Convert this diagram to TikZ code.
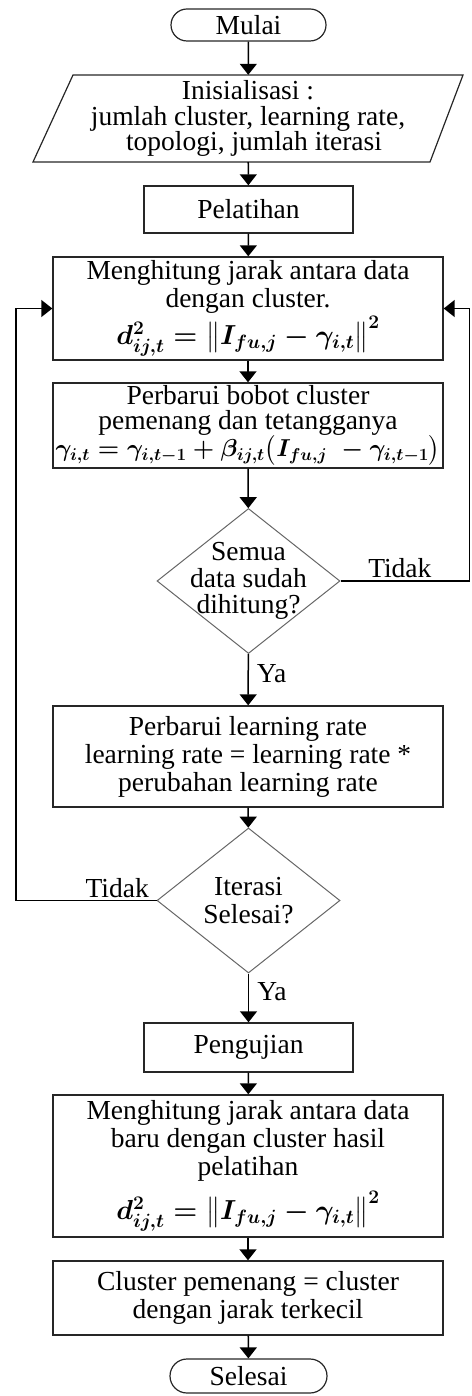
\documentclass[tikz,border=0pt]{standalone}
\usepackage{fix-cm}
\usepackage{amsmath}
\usepackage{fontspec}
\setmainfont{Liberation Serif}
\usetikzlibrary{shapes.geometric,arrows.meta}
\newcommand{\fsz}{\fontsize{27.5}{28}\selectfont}
\begin{document}
\begin{tikzpicture}[x=1pt,y=-1pt,
  every node/.style={font=\fsz,inner sep=0pt},
  procbox/.style={draw=black!85,line width=1.4pt,rectangle,align=center},
  termbox/.style={draw=black!85,line width=1.2pt,rectangle,rounded corners=16pt,align=center},
  decbox/.style={draw=black!60,line width=1pt,diamond,inner sep=0pt},
  arr/.style={-{Triangle[width=17pt,length=11pt]},line width=1.5pt,draw=black},
  lbl/.style={font=\fsz,inner sep=2pt}
]
\useasboundingbox (0,0) rectangle (471,1396);

\node[termbox,minimum width=155pt,minimum height=32pt] (start) at (248.5,25) {Mulai};

\draw[draw=black!85,line width=1.2pt] (73,75) -- (463,75) -- (430,162) -- (33,162) -- cycle;
\node[align=center,minimum height=87pt,font=\fontsize{27.5}{25.5}\selectfont] (init) at (248,118.5)
  {Inisialisasi :\\jumlah cluster, learning rate,\\\hspace*{12pt}topologi, jumlah iterasi};

\node[procbox,minimum width=209pt,minimum height=47pt] (pel) at (248.5,209.5) {Pelatihan};

\node[procbox,minimum width=390pt,minimum height=103pt] (b1) at (248,308.5)
  {Menghitung jarak antara data\\dengan cluster.\\[1pt]
   {\boldmath$d_{ij,t}^{2}=\bigl\|I_{fu,j}-\gamma_{i,t}\bigr\|^{2}$}};

\node[procbox,minimum width=390pt,minimum height=85pt,font=\fontsize{27.5}{25}\selectfont] (b2) at (248,425.5)
  {Perbarui bobot cluster\\pemenang dan tetangganya\\[-1pt]
   {\fontsize{24.5}{25}\selectfont\boldmath$\gamma_{i,t}=\gamma_{i,t-1}+\beta_{ij,t}\bigl(I_{fu,j}\;-\gamma_{i,t-1}\bigr)$}};

\node[decbox,minimum width=183pt,minimum height=145pt] (d1) at (248.5,581) {};
\node[align=center,font=\fontsize{27.5}{26.5}\selectfont] (d1t) at (d1) {Semua\\data sudah\\dihitung?};

\node[procbox,minimum width=390pt,minimum height=101pt] (b3) at (248,756.5)
  {Perbarui learning rate\\learning rate = learning rate *\\perubahan learning rate};

\node[decbox,minimum width=183pt,minimum height=145pt] (d2) at (248.5,900.5) {};
\node[align=center] (d2t) at (d2) {Iterasi\\Selesai?};

\node[procbox,minimum width=209pt,minimum height=49pt] (peng) at (248.5,1047.5) {Pengujian};

\node[procbox,minimum width=390pt,minimum height=142pt] (b4) at (248,1166)
  {Menghitung jarak antara data\\baru dengan cluster hasil\\pelatihan\\[8pt]
   {\boldmath$d_{ij,t}^{2}=\bigl\|I_{fu,j}-\gamma_{i,t}\bigr\|^{2}$}};

\node[procbox,minimum width=390pt,minimum height=74pt] (b5) at (248,1298)
  {Cluster pemenang = cluster\\dengan jarak terkecil};

\node[termbox,minimum width=157pt,minimum height=34pt,rounded corners=17pt] (stop) at (248.5,1376) {Selesai};

\coordinate (rx) at (469.5,0);
\coordinate (lx) at (16,0);

\draw[arr] (start) -- (init);
\draw[arr] (init) -- (pel);
\draw[arr] (pel) -- (b1);
\draw[arr] (b1) -- (b2);
\draw[arr] (b2) -- (d1);
\draw[arr] (d1) -- node[lbl,pos=0.38,right=6pt] {Ya} (b3);
\draw[arr] (b3) -- (d2);
\draw[arr] (d2) -- node[lbl,pos=0.38,right=6pt] {Ya} (peng);
\draw[arr] (peng) -- (b4);
\draw[arr] (b4) -- (b5);
\draw[arr] (b5) -- (stop);

\draw[arr] (d1.east) -- node[lbl,above,pos=0.46] {Tidak} (d1.east -| rx) |- (b1.east);
\draw[arr] (d2.west) -- node[lbl,above,pos=0.28] {Tidak} (d2.west -| lx) |- (b1.west);
\end{tikzpicture}
\end{document}
